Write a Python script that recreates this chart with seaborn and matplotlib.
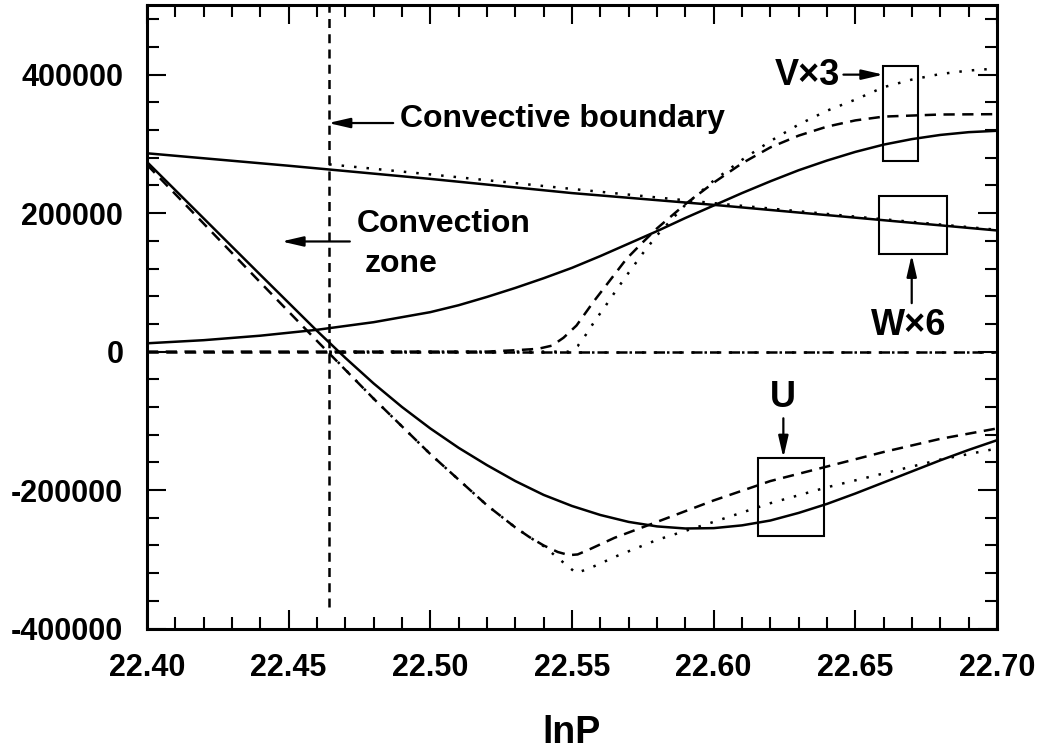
import numpy as np
import pandas as pd
import matplotlib
matplotlib.use('Agg')
import matplotlib.pyplot as plt
from matplotlib.patches import Rectangle
from matplotlib.ticker import MultipleLocator
import seaborn as sns

# convective boundary position (lnP)
boundary = 22.4643

# U curves
u_solid_x = [22.40, 22.42, 22.44, 22.45, 22.46, 22.47, 22.48, 22.49, 22.50, 22.51, 22.52, 22.53, 22.54, 22.55,
             22.56, 22.57, 22.58, 22.59, 22.60, 22.61, 22.62, 22.63, 22.64, 22.65, 22.66, 22.67, 22.68, 22.69, 22.70]
u_solid_y = [274000, 192500, 111000, 70500, 30000, -9000, -46000, -80000, -111000, -139000, -164000, -187000, -207000, -223000,
             -236000, -246000, -252500, -255500, -255000, -251000, -244000, -233000, -220000, -205000, -189000, -173000, -157000, -142000, -128000]
u_dash_x = [22.40, 22.42, 22.44, 22.46, 22.48, 22.50, 22.52, 22.525, 22.53, 22.535, 22.54, 22.545, 22.549, 22.552, 22.556,
            22.565, 22.58, 22.60, 22.62, 22.64, 22.66, 22.68, 22.70]
u_dash_y = [270000, 185000, 100000, 15500, -68000, -148000, -222000, -238000, -254000, -268000, -280000, -289500, -294000, -293000, -286000,
            -269000, -246000, -215000, -187000, -166000, -145000, -126000, -111000]
u_dot_x = [22.4643, 22.48, 22.50, 22.52, 22.525, 22.53, 22.535, 22.54, 22.545, 22.5515, 22.5565, 22.566, 22.58, 22.60, 22.62,
           22.64, 22.66, 22.68, 22.70]
u_dot_y = [-2000, -68000, -148000, -222000, -238000, -254000, -268000, -281000, -298000, -320000, -312500, -295000, -272000, -246000, -219000,
           -196000, -176000, -156000, -140000]

# V curves (x3)
v_solid_x = [22.40, 22.42, 22.44, 22.46, 22.48, 22.50, 22.51, 22.52, 22.53, 22.54, 22.55, 22.56, 22.57, 22.58, 22.59,
             22.60, 22.61, 22.62, 22.63, 22.64, 22.65, 22.66, 22.67, 22.68, 22.69, 22.70]
v_solid_y = [12000, 16500, 23000, 31500, 42500, 57000, 67000, 79000, 92000, 106000, 121000, 138000, 156000, 174000, 193000,
             211000, 229000, 246000, 262000, 276000, 288500, 299000, 307000, 313000, 317000, 319000]
v_dash_x = [22.40, 22.52, 22.53, 22.538, 22.543, 22.547, 22.5516, 22.5575, 22.5634, 22.5693, 22.575, 22.58, 22.59, 22.60,
            22.61, 22.62, 22.63, 22.64, 22.65, 22.66, 22.68, 22.70]
v_dash_y = [0, 0, 2000, 4000, 8700, 20000, 37700, 71500, 102900, 134300, 158000, 178000, 213000, 244000,
            272000, 295000, 312000, 325000, 334000, 339500, 342500, 343000]
v_dot_x = [22.4643, 22.549, 22.552, 22.555, 22.558, 22.562, 22.566, 22.570, 22.575, 22.58, 22.59, 22.60, 22.61, 22.62,
           22.63, 22.64, 22.65, 22.66, 22.67, 22.68, 22.69, 22.70]
v_dot_y = [0, 0, 8000, 25000, 44000, 67000, 91000, 114000, 142000, 168000, 212000, 247000, 277000, 304000,
           328000, 348000, 364000, 382000, 393000, 401000, 406000, 409000]

# W curves (x6)
w_solid_x = [22.40, 22.45, 22.50, 22.55, 22.60, 22.65, 22.70]
w_solid_y = [286500, 268500, 249500, 229000, 212000, 193500, 175000]
w_dot_x = [22.4643, 22.50, 22.55, 22.60, 22.65, 22.70]
w_dot_y = [270500, 256000, 235000, 214500, 195000, 176000]

# zero reference lines
zero_dash_x = [22.40, 22.70]
zero_dot_x = [boundary, 22.70]

x_ticks = [22.40, 22.45, 22.50, 22.55, 22.60, 22.65, 22.70]
y_ticks = [-400000, -200000, 0, 200000, 400000]

sns.set_theme(style='ticks')
plt.rcParams['font.family'] = ['Liberation Sans', 'DejaVu Sans']
plt.rcParams['font.weight'] = 'bold'
plt.rcParams['axes.unicode_minus'] = False
plt.rcParams['text.color'] = 'black'
plt.rcParams['axes.labelcolor'] = 'black'
plt.rcParams['xtick.labelcolor'] = 'black'
plt.rcParams['ytick.labelcolor'] = 'black'

fig = plt.figure(figsize=(10.43, 7.51), dpi=100)
ax = fig.add_axes([0.1409, 0.1631, 0.8150, 0.8296])

lw = 1.8
solid = '-'
dashed = (0, (4.5, 3))
dotted = (0, (1, 4))

def line(x, y, ls):
    sns.lineplot(x=x, y=y, ax=ax, color='black', linewidth=lw, linestyle=ls,
                 sort=False, estimator=None)

line(zero_dash_x, [0, 0], dashed)
line(zero_dot_x, [0, 0], dotted)

line(u_solid_x, u_solid_y, solid)
line(u_dash_x, u_dash_y, dashed)
line(u_dot_x, u_dot_y, dotted)

line(v_solid_x, v_solid_y, solid)
line(v_dash_x, v_dash_y, dashed)
line(v_dot_x, v_dot_y, dotted)

line(w_solid_x, w_solid_y, solid)
line(w_dot_x, w_dot_y, dotted)

ax.axvline(boundary, ymin=0.035, ymax=1, color='black', linewidth=lw, linestyle=(0, (3.6, 2.5)))

# boxes marking the curves
for (x0, x1, y0, y1) in [(22.6599, 22.6722, 275800, 412100),
                         (22.6585, 22.6825, 140800, 224100),
                         (22.6155, 22.6391, -266500, -153300)]:
    ax.add_patch(Rectangle((x0, y0), x1 - x0, y1 - y0, fill=False,
                           edgecolor='black', linewidth=1.5))

arrow = dict(arrowstyle='-|>,head_length=0.65,head_width=0.15', color='black',
             lw=1.6, mutation_scale=20, shrinkA=0, shrinkB=0)

ax.annotate('', xy=(22.4640, 330200), xytext=(22.4869, 330200), arrowprops=arrow)
ax.annotate('', xy=(22.4475, 159100), xytext=(22.4716, 159100), arrowprops=arrow)
ax.annotate('', xy=(22.6599, 400100), xytext=(22.6458, 400100), arrowprops=arrow)
ax.annotate('', xy=(22.6699, 139800), xytext=(22.6699, 70000), arrowprops=arrow)
ax.annotate('', xy=(22.6246, -153300), xytext=(22.6246, -96300), arrowprops=arrow)

ax.text(22.4893, 324900, 'Convective boundary', fontsize=23, fontweight='bold', va='baseline', ha='left')
ax.text(22.4740, 173100, 'Convection', fontsize=23, fontweight='bold', va='baseline', ha='left')
ax.text(22.4769, 115700, 'zone', fontsize=23, fontweight='bold', va='baseline', ha='left')
ax.text(22.6446, 385700, 'V\u00d73', fontsize=26, fontweight='bold', va='baseline', ha='right')
ax.text(22.6687, 24100, 'W\u00d76', fontsize=26, fontweight='bold', va='baseline', ha='center')
ax.text(22.6246, -79500, 'U', fontsize=26, fontweight='bold', va='baseline', ha='center')

ax.set_xlim(22.40, 22.70)
ax.set_ylim(-400000, 500000)
ax.set_xticks(x_ticks)
ax.set_xticklabels([f'{t:.2f}' for t in x_ticks])
ax.set_yticks(y_ticks)
ax.set_yticklabels([str(t) for t in y_ticks])
ax.xaxis.set_minor_locator(MultipleLocator(0.01))
ax.yaxis.set_minor_locator(MultipleLocator(40000))
ax.tick_params(which='both', direction='in', top=True, right=True, color='black', width=1.5,
               labelcolor='black')
ax.tick_params(which='major', length=14, labelsize=22)
ax.tick_params(which='minor', length=8.5)
ax.tick_params(axis='y', which='major', pad=17)
ax.tick_params(axis='x', which='major', pad=17.5)
for lab in ax.get_xticklabels() + ax.get_yticklabels():
    lab.set_fontweight('bold')
for s in ax.spines.values():
    s.set_linewidth(2.2)
    s.set_color('black')

ax.set_xlabel('lnP', fontsize=27, fontweight='bold', labelpad=23, color='black')
ax.set_ylabel('')

fig.savefig('out.png', dpi=100)
